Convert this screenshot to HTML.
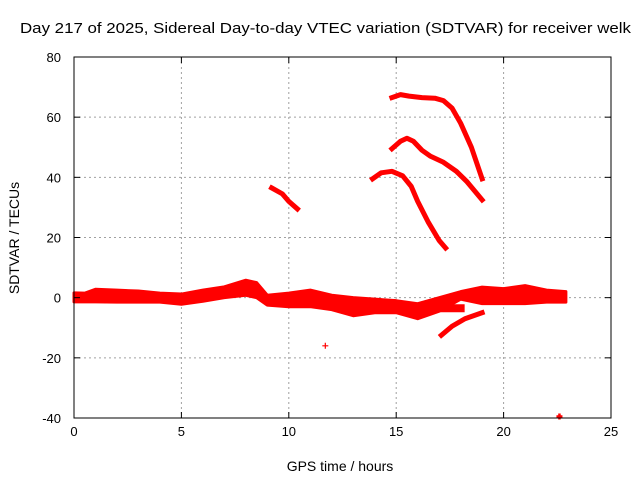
<!DOCTYPE html>
<html><head><meta charset="utf-8"><style>
body{margin:0;background:#fff;}
svg{display:block;font-family:"Liberation Sans",sans-serif;}
</style></head><body>
<svg id="chart" width="640" height="480">
<text x="20" y="33" font-size="15" textLength="611" lengthAdjust="spacingAndGlyphs">Day 217 of 2025, Sidereal Day-to-day VTEC variation (SDTVAR) for receiver welk</text>
<text x="340" y="471" font-size="14" text-anchor="middle">GPS time / hours</text>
<text transform="translate(19,238) rotate(-90)" font-size="14" text-anchor="middle">SDTVAR / TECUs</text>
<g id="grid"></g><g id="marks"></g><g id="axes"></g>
</svg>
<script>
const xTicks=[0,5,10,15,20,25];
const yTicks=[-40,-20,0,20,40,60,80];
const bandHours=[0,0.5,1,2,3,4,5,6,7,8,8.5,9,10,11,12,13,14,15,16,17,18,19,20,21,22,22.9];
const bandUpper=[1.6,1.5,2.8,2.5,2.2,1.5,1.2,2.5,3.6,5.8,5,0.8,1.5,2.5,0.8,0,-0.5,-1,-2,0,2,3.5,3,4,2.5,2];
const bandLower=[-1.4,-1.4,-1.4,-1.5,-1.5,-1.5,-2.2,-1.2,0,0.8,0,-2.5,-3,-3,-4,-6,-5,-5,-7,-4.5,-0.5,-2,-2,-2,-1.5,-1.5];
const branchHours=[15,16,17,18];
const branchValues=[-3.5,-5,-3.5,-3.5];
const lowArcHours=[17.1,17.6,18.2,19];
const lowArcValues=[-12.5,-9.5,-7,-5];
const arcAHours=[9.2,9.7,10,10.4];
const arcAValues=[36.5,34.5,32,29.5];
const arcBHours=[13.9,14.3,14.8,15.3,15.7,16,16.5,17,17.3];
const arcBValues=[39.5,41.5,42,40.5,37,32,25,19,16.5];
const arcCHours=[14.8,15.2,15.5,15.8,16.2,16.6,17.2,17.8,18.3,19];
const arcCValues=[49.5,52,53,52,49,47,45,42,38.5,32.5];
const arcDHours=[14.8,15.2,15.6,16.2,16.8,17.2,17.6,18,18.5,19];
const arcDValues=[66.5,67.5,67,66.5,66.3,65.5,63,58,50,39.5];
const outlierHours=[11.7,22.6];
const outlierValues=[-16,-39.5];

const L=74,R=611,T=57,B=418,xmin=0,xmax=25,ymin=-40,ymax=80;
const sx=v=>L+(v-xmin)/(xmax-xmin)*(R-L);
const sy=v=>B-(v-ymin)/(ymax-ymin)*(B-T);
const NS='http://www.w3.org/2000/svg';
function mk(tag,attrs,parent){const e=document.createElementNS(NS,tag);for(const k in attrs)e.setAttribute(k,attrs[k]);document.getElementById(parent).appendChild(e);return e;}
xTicks.forEach(t=>{
 if(t>xmin&&t<xmax){const g=mk('line',{x1:sx(t),x2:sx(t),y1:T,y2:B,stroke:'#a0a0a0','stroke-dasharray':'2,3'},'grid');
 
 }
 const tl=mk('text',{x:sx(t),y:B+18,'font-size':13,'text-anchor':'middle'},'axes');tl.textContent=t;
 
 
 mk('line',{x1:sx(t),x2:sx(t),y1:B,y2:B-6,stroke:'#000'},'axes');mk('line',{x1:sx(t),x2:sx(t),y1:T,y2:T+6,stroke:'#000'},'axes');
});
yTicks.forEach(t=>{
 if(t>ymin&&t<ymax){const g=mk('line',{x1:L,x2:R,y1:sy(t),y2:sy(t),stroke:'#a0a0a0','stroke-dasharray':'2,3'},'grid');
 
 }
 const tl=mk('text',{x:L-13,y:sy(t)+5,'font-size':13,'text-anchor':'end'},'axes');tl.textContent=t;
 
 
 mk('line',{x1:L,x2:L+6,y1:sy(t),y2:sy(t),stroke:'#000'},'axes');mk('line',{x1:R,x2:R-6,y1:sy(t),y2:sy(t),stroke:'#000'},'axes');
});
const fr=mk('rect',{x:L,y:T,width:R-L,height:B-T,fill:'none',stroke:'#000'},'axes');


let pts=bandHours.map((h,i)=>sx(h)+','+sy(bandUpper[i]));
for(let i=bandHours.length-1;i>=0;i--)pts.push(sx(bandHours[i])+','+sy(bandLower[i]));
const band=mk('polygon',{points:pts.join(' '),fill:'#f00',stroke:'#f00','stroke-width':3,'stroke-linejoin':'round'},'marks');


function arc(hs,vs,name,w){const p=mk('polyline',{points:hs.map((h,i)=>sx(h)+','+sy(vs[i])).join(' '),fill:'none',stroke:'#f00','stroke-width':w,'stroke-linejoin':'round','stroke-linecap':'square'},'marks');
 
 }
arc(branchHours,branchValues,'lower-branch',8);
arc(lowArcHours,lowArcValues,'negative-arc',5);
arc(arcAHours,arcAValues,'arc-a',5);
arc(arcBHours,arcBValues,'arc-b',5);
arc(arcCHours,arcCValues,'arc-c',5);
arc(arcDHours,arcDValues,'arc-d',5);
outlierHours.forEach((h,i)=>{const x=sx(h),y=sy(outlierValues[i]);const w=i===1?2.5:1.2;
 const p=mk('path',{d:`M${x-3},${y}H${x+3}M${x},${y-3}V${y+3}`,stroke:'#f00','stroke-width':w},'marks');
 
 });
</script>
</body></html>
